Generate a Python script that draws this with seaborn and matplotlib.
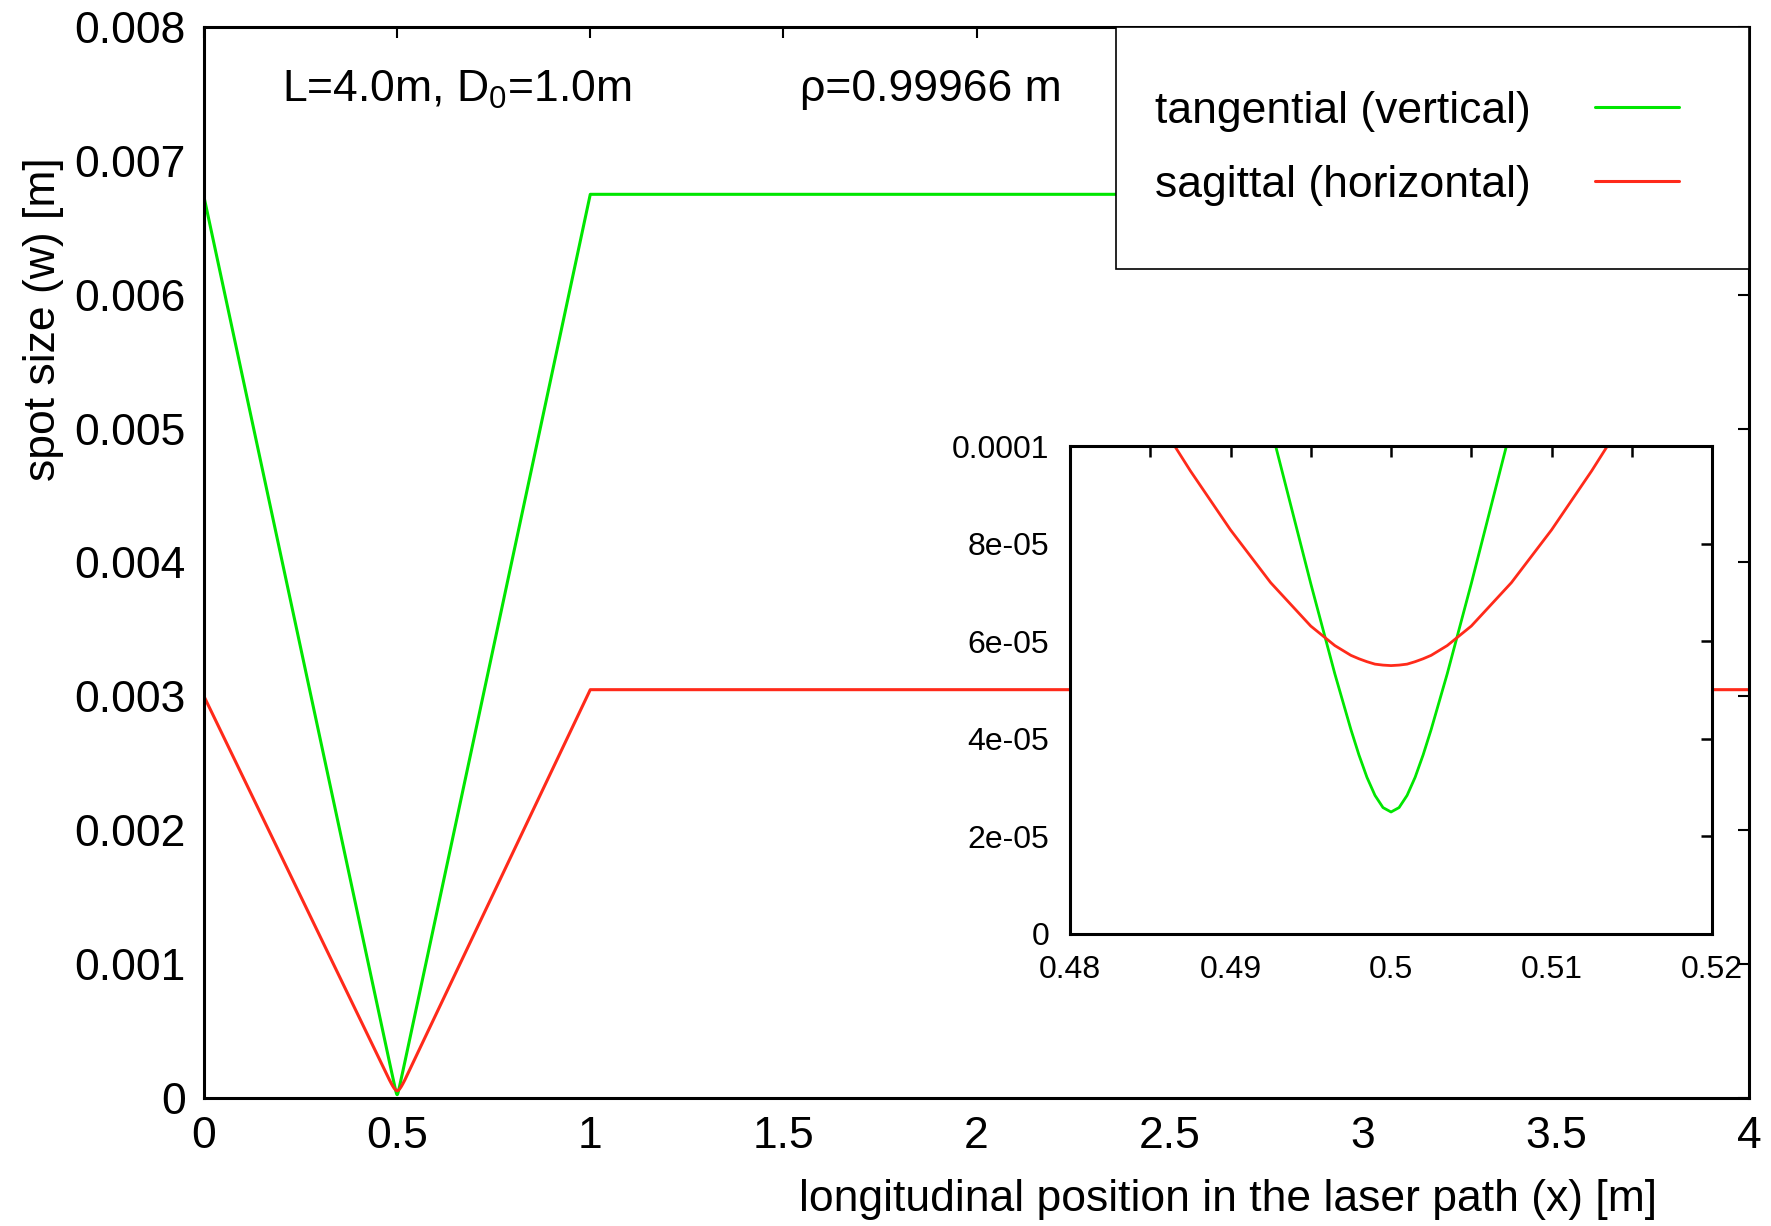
import matplotlib
matplotlib.use("Agg")
import matplotlib.pyplot as plt
from matplotlib.patches import Rectangle
import seaborn as sns

# Sample positions along the laser path [m]
x_pos = [0.0, 0.48, 0.485, 0.4875, 0.49, 0.4925, 0.495, 0.4965, 0.4975, 0.498,
         0.4985, 0.499, 0.4995, 0.5, 0.5005, 0.501, 0.5015, 0.502, 0.5025,
         0.5035, 0.505, 0.5075, 0.51, 0.5125, 0.515, 0.52, 1.0, 4.0]

# Beam spot size [m]
w_tangential = [6.73e-3, 2.70e-4, 2.03e-4, 1.70e-4, 1.37e-4, 1.04e-4, 7.18e-5,
                5.33e-5, 4.19e-5, 3.67e-5, 3.21e-5, 2.84e-5, 2.59e-5, 2.50e-5,
                2.59e-5, 2.84e-5, 3.21e-5, 3.67e-5, 4.19e-5, 5.33e-5, 7.18e-5,
                1.04e-4, 1.37e-4, 1.70e-4, 2.03e-4, 2.70e-4, 6.75e-3, 6.75e-3]
w_sagittal = [3.00e-3, 1.354e-4, 1.079e-4, 9.49e-5, 8.28e-5, 7.20e-5, 6.31e-5,
              5.91e-5, 5.71e-5, 5.64e-5, 5.58e-5, 5.53e-5, 5.51e-5, 5.50e-5,
              5.51e-5, 5.53e-5, 5.58e-5, 5.64e-5, 5.71e-5, 5.91e-5, 6.31e-5,
              7.20e-5, 8.28e-5, 9.49e-5, 1.079e-4, 1.354e-4, 3.05e-3, 3.05e-3]

series_labels = ["tangential (vertical)", "sagittal (horizontal)"]
series_colors = ["#00e600", "#ff2a1a"]

main_xticks = [0, 0.5, 1, 1.5, 2, 2.5, 3, 3.5, 4]
main_xticklabels = ["0", "0.5", "1", "1.5", "2", "2.5", "3", "3.5", "4"]
main_yticks = [0, 0.001, 0.002, 0.003, 0.004, 0.005, 0.006, 0.007, 0.008]
main_yticklabels = ["0", "0.001", "0.002", "0.003", "0.004", "0.005",
                    "0.006", "0.007", "0.008"]

inset_xticks = [0.48, 0.49, 0.50, 0.51, 0.52]
inset_xticklabels = ["0.48", "0.49", "0.5", "0.51", "0.52"]
inset_xminor = [0.485, 0.495, 0.505, 0.515]
inset_yticks = [0, 2e-5, 4e-5, 6e-5, 8e-5, 1e-4]
inset_yticklabels = ["0", "2e-05", "4e-05", "6e-05", "8e-05", "0.0001"]

sns.set_theme(style="white")
plt.rcParams["font.family"] = ["Liberation Sans", "DejaVu Sans"]
plt.rcParams["text.color"] = "black"
plt.rcParams["axes.labelcolor"] = "black"
plt.rcParams["mathtext.fontset"] = "custom"
plt.rcParams["mathtext.rm"] = "Liberation Sans"
plt.rcParams["mathtext.it"] = "Liberation Sans:italic"
plt.rcParams["mathtext.bf"] = "Liberation Sans:bold"

FS = 32
FS_IN = 23

fig = plt.figure(figsize=(17.71, 12.26), dpi=100)
ax = fig.add_axes([0.1152, 0.1044, 0.8724, 0.8736])

for w, lab, col in zip([w_tangential, w_sagittal], series_labels, series_colors):
    sns.lineplot(x=x_pos, y=w, color=col, label=lab, lw=2.2,
                 estimator=None, sort=False, ax=ax)

ax.set_xlim(0, 4)
ax.set_ylim(0, 0.008)
ax.set_xticks(main_xticks, labels=main_xticklabels)
ax.set_yticks(main_yticks, labels=main_yticklabels)
ax.tick_params(direction="in", length=8, width=1.5, color="black",
               top=True, right=True, labelsize=FS, pad=13, labelcolor="black")
for s in ax.spines.values():
    s.set_color("black")
    s.set_linewidth(2.2)

ax.set_xlabel("longitudinal position in the laser path (x) [m]", fontsize=FS,
              color="black")
ax.xaxis.set_label_coords(0.663, -0.095)
ax.xaxis.label.set_va("center")
ax.set_ylabel("spot size (w) [m]", fontsize=FS, color="black")
ax.yaxis.set_label_coords(-0.104, 0.727)
ax.yaxis.label.set_va("center")

ax.text(0.202, 0.00753, r"L=4.0m, D$_{\mathrm{0}}$=1.0m", fontsize=FS,
        va="center", ha="left", color="black")
ax.text(1.543, 0.00753, "ρ=0.99966 m", fontsize=FS, va="center", ha="left",
        color="black")

# Legend: labels first, line samples on the right, inside a plain box
handles, labels = ax.get_legend_handles_labels()
box = Rectangle((0.590, 0.774), 0.410, 0.226, transform=ax.transAxes,
                facecolor="white", edgecolor="black", lw=1.2, zorder=5,
                clip_on=False)
ax.add_patch(box)
leg = ax.legend(handles, labels, loc="upper left",
                bbox_to_anchor=(0.601, 0.961), frameon=False,
                markerfirst=False, handlelength=1.9, handletextpad=1.45,
                labelspacing=0.74, borderpad=0, fontsize=FS)
leg.set_zorder(6)
for t in leg.get_texts():
    t.set_color("black")

# Inset: zoom on the focus at x = 0.5 m
axi = fig.add_axes([0.6042, 0.2382, 0.3625, 0.398])
axi.set_facecolor("white")
for w, col in zip([w_tangential, w_sagittal], series_colors):
    sns.lineplot(x=x_pos, y=w, color=col, lw=2.0, estimator=None, sort=False,
                 legend=False, ax=axi)
axi.set_xlim(0.48, 0.52)
axi.set_ylim(0, 1e-4)
axi.set_xticks(inset_xticks, labels=inset_xticklabels)
axi.set_xticks(inset_xminor, minor=True)
axi.set_yticks(inset_yticks, labels=inset_yticklabels)
axi.tick_params(which="both", direction="in", length=8, width=1.8,
                color="black", top=True, right=True, labelsize=FS_IN, pad=15,
                labelcolor="black")
axi.set_xlabel("")
axi.set_ylabel("")
for s in axi.spines.values():
    s.set_color("black")
    s.set_linewidth(2.2)

fig.savefig("out.png", dpi=100, facecolor="white")
